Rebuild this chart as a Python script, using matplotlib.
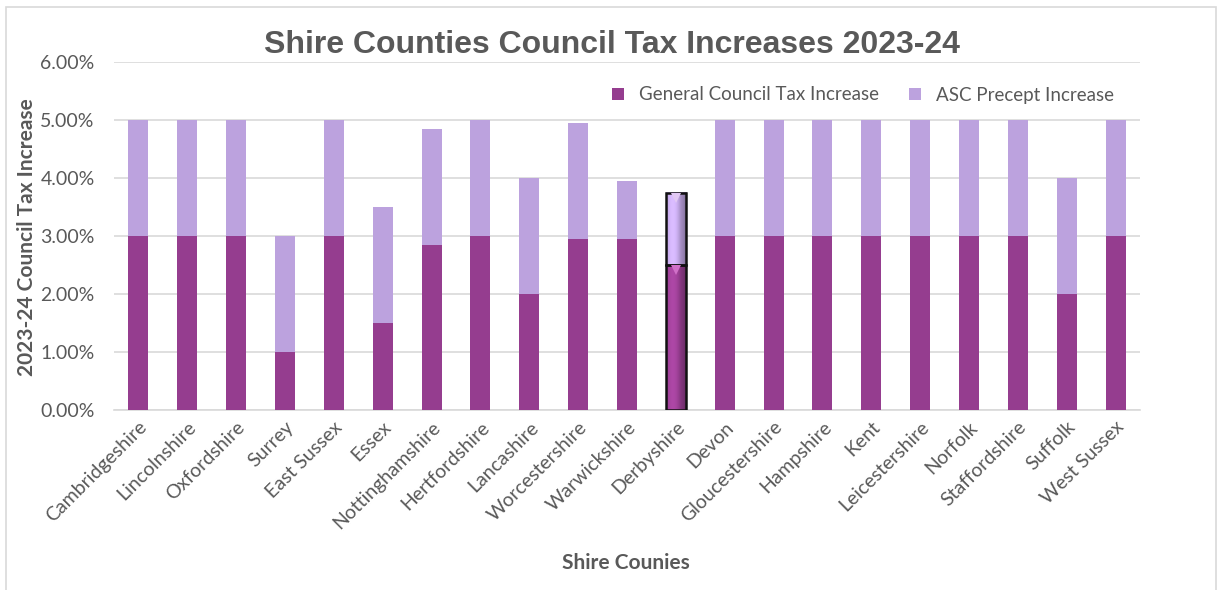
import numpy as np
import matplotlib
matplotlib.use("Agg")
import matplotlib.pyplot as plt
from matplotlib.patches import Rectangle
from matplotlib.ticker import PercentFormatter
from matplotlib.colors import to_rgb

counties = ["Cambridgeshire", "Lincolnshire", "Oxfordshire", "Surrey", "East Sussex",
            "Essex", "Nottinghamshire", "Hertfordshire", "Lancashire", "Worcestershire",
            "Warwickshire", "Derbyshire", "Devon", "Gloucestershire", "Hampshire", "Kent",
            "Leicestershire", "Norfolk", "Staffordshire", "Suffolk", "West Sussex"]
general_increase = [3.00, 3.00, 3.00, 1.00, 3.00, 1.50, 2.84, 3.00, 2.00, 2.94,
                    2.94, 2.50, 3.00, 3.00, 3.00, 3.00, 3.00, 3.00, 3.00, 2.00, 3.00]
asc_increase = [2.00, 2.00, 2.00, 2.00, 2.00, 2.00, 2.00, 2.00, 2.00, 2.00,
                1.00, 1.25, 2.00, 2.00, 2.00, 2.00, 2.00, 2.00, 2.00, 2.00, 2.00]
highlight = "Derbyshire"

DARK = "#953D8F"
LIGHT = "#BCA2DE"
GREY = "#595959"
GRID = "#D9D9D9"
FONT = "Lato"

fig = plt.figure(figsize=(12.2, 5.9), dpi=100)
ax = fig.add_axes([114 / 1220, 180 / 590, 1026 / 1220, 348 / 590])

# chart frame
fig.patches.append(Rectangle((6 / 1220, -0.02), 1210 / 1220, 0.02 + 583 / 590,
                             transform=fig.transFigure, fill=False,
                             edgecolor=GRID, linewidth=1.2))

x = np.arange(len(counties))
width = 0.41
gen = np.array(general_increase)
asc = np.array(asc_increase)

b1 = ax.bar(x, gen, width, color=DARK, label="General Council Tax Increase", zorder=3)
b2 = ax.bar(x, asc, width, bottom=gen, color=LIGHT, label="ASC Precept Increase", zorder=3)


def shaded_segment(xc, y0, y1, base):
    """Fill a bar segment with a bevelled horizontal gradient."""
    r, g, b = to_rgb(base)
    t = np.linspace(0, 1, 60)
    shade = 1.0 + 0.18 * np.sin(np.pi * np.clip(t * 1.4, 0, 1)) - 0.35 * t ** 3
    img = np.stack([np.clip(c * shade, 0, 1) for c in (r, g, b)], axis=-1)[None, :, :]
    ax.imshow(img, extent=(xc - width / 2, xc + width / 2, y0, y1),
              aspect="auto", interpolation="bilinear", zorder=4)


i = counties.index(highlight)
b1[i].set_visible(False)
b2[i].set_visible(False)
shaded_segment(x[i], 0, gen[i], DARK)
shaded_segment(x[i], gen[i], gen[i] + asc[i], LIGHT)
for y0, h in ((0, gen[i]), (gen[i], asc[i])):
    ax.add_patch(Rectangle((x[i] - width / 2, y0), width, h, fill=False,
                           edgecolor="#111111", linewidth=1.8, zorder=5))
for ytop, col in ((gen[i], "#D070C8"), (gen[i] + asc[i], "#E2C8F4")):
    ax.plot(x[i], ytop - 0.09, marker="v", markersize=7, color=col,
            markeredgewidth=0, zorder=6)

ax.set_xlim(-0.5, len(counties) - 0.5)
ax.set_ylim(0, 6)
ax.set_yticks(np.arange(0, 7, 1))
ax.yaxis.set_major_formatter(PercentFormatter(decimals=2))
ax.grid(axis="y", color=GRID, linewidth=1.2, zorder=0)
ax.set_axisbelow(True)
for s in ("top", "right", "left"):
    ax.spines[s].set_visible(False)
ax.spines["bottom"].set_color(GRID)
ax.spines["bottom"].set_linewidth(1.2)
ax.tick_params(axis="y", length=0, colors=GREY, labelsize=14, pad=14)
ax.tick_params(axis="x", length=0, colors=GREY, labelsize=14, pad=6)
ax.set_xticks(x)
ax.set_xticklabels(counties, rotation=45, ha="right", rotation_mode="anchor",
                   fontsize=14, color=GREY, fontfamily=FONT)
for lab in ax.get_yticklabels():
    lab.set_fontfamily(FONT)

fig.text(27 / 1220, 1 - 237 / 590, "2023-24 Council Tax Increase", rotation=90,
         ha="center", va="center", fontsize=15, fontweight="bold", color=GREY,
         fontfamily=FONT)
fig.text(626 / 1220, 1 - 563 / 590, "Shire Counies", ha="center", va="center",
         fontsize=15, fontweight="bold", color=GREY, fontfamily=FONT)
fig.text(612 / 1220, 1 - 45 / 590, "Shire Counties Council Tax Increases 2023-24",
         ha="center", va="center", fontsize=23, fontweight="bold", color=GREY,
         fontfamily="Liberation Sans")

leg = ax.legend(loc="center left", bbox_to_anchor=(612 / 1220, 1 - 95 / 590),
                bbox_transform=fig.transFigure, ncol=2, frameon=False,
                borderaxespad=0, borderpad=0,
                handlelength=0.65, handleheight=0.65, columnspacing=1.6,
                handletextpad=0.8, prop={"family": FONT, "size": 13.5})
for t in leg.get_texts():
    t.set_color(GREY)

fig.savefig("out.png", dpi=100, facecolor="white")
